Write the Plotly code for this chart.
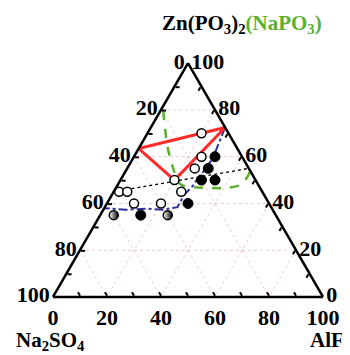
import plotly.graph_objects as go

# compositions (mol%): a = Zn(PO3)2, b = Na2SO4, c = AlF3
open_a = [70, 60, 55, 50, 45, 45, 45, 40, 40]
open_b = [10, 15, 20, 30, 30, 53, 50, 50, 40]
open_c = [20, 25, 25, 20, 25, 2, 5, 10, 20]

filled_a = [60, 55, 50, 50, 40, 35]
filled_b = [10, 15, 20, 15, 30, 50]
filled_c = [30, 30, 30, 35, 30, 15]

half_a = [35, 35]
half_b = [60, 40]
half_c = [5, 25]

red_a = [63.5, 72.5, 50, 63.5]
red_b = [36.5, 0, 30, 36.5]
red_c = [0, 27.5, 20, 0]

blue_a = [72.5, 59.4, 54.1, 50.7, 47.4, 43.7, 38.4, 37.3, 37.8, 37.3, 38]
blue_b = [0, 11.1, 16.9, 21.1, 24.6, 29.6, 34.7, 40.8, 46.7, 54.4, 62]
blue_c = [27.5, 29.5, 29, 28.2, 28, 26.7, 26.9, 21.9, 15.5, 8.3, 0]

green_a = [79.5, 72.8, 63.5, 55.4, 48.7, 47.4, 46.7, 46.7, 48.1, 52.1, 54.1]
green_b = [19.4, 22.2, 25.7, 27.9, 28.9, 27.7, 20.6, 12, 6.3, 1.6, 0]
green_c = [1.1, 5, 10.8, 16.7, 22.4, 24.9, 32.7, 41.3, 45.6, 46.3, 45.9]

dot_a = [45, 55]
dot_b = [55, 0]
dot_c = [0, 45]

grid_vals = [20, 40, 60, 80]
tick_vals = list(range(0, 101, 10))

FONT = "Liberation Serif"

fig = go.Figure()

# faint grid
for g in grid_vals:
    for aa, bb, cc in [([g, g], [100 - g, 0], [0, 100 - g]),
                       ([100 - g, 0], [g, g], [0, 100 - g]),
                       ([100 - g, 0], [0, 100 - g], [g, g])]:
        fig.add_trace(go.Scatterternary(a=aa, b=bb, c=cc, mode="lines",
                                        line=dict(color="rgba(225,140,140,0.45)", width=1, dash="dot"),
                                        hoverinfo="skip", showlegend=False))

fig.add_trace(go.Scatterternary(a=dot_a, b=dot_b, c=dot_c, mode="lines",
                                line=dict(color="black", width=1.3, dash="dot"), showlegend=False))
fig.add_trace(go.Scatterternary(a=green_a, b=green_b, c=green_c, mode="lines",
                                line=dict(color="#5cb030", width=2.5, dash="dash", shape="spline", smoothing=0.8),
                                showlegend=False))
fig.add_trace(go.Scatterternary(a=blue_a, b=blue_b, c=blue_c, mode="lines",
                                line=dict(color="#2e2e9e", width=2, dash="dashdot"), showlegend=False))
fig.add_trace(go.Scatterternary(a=red_a, b=red_b, c=red_c, mode="lines",
                                line=dict(color="#ff2a2a", width=3), showlegend=False))
fig.add_trace(go.Scatterternary(a=open_a, b=open_b, c=open_c, mode="markers",
                                marker=dict(symbol="circle", size=9, color="white",
                                            line=dict(color="black", width=1.5)), showlegend=False))
fig.add_trace(go.Scatterternary(a=filled_a, b=filled_b, c=filled_c, mode="markers",
                                marker=dict(symbol="circle", size=10, color="black",
                                            line=dict(color="black", width=1)), showlegend=False))
fig.add_trace(go.Scatterternary(a=half_a, b=half_b, c=half_c, mode="markers",
                                marker=dict(symbol="circle", size=9, color="white",
                                            gradient=dict(type="horizontal", color="black"),
                                            line=dict(color="black", width=1.5)), showlegend=False))

def axis(texts):
    return dict(
        title=dict(text=""),
        tickmode="array", tickvals=tick_vals, ticktext=texts,
        ticks="inside", ticklen=4, tickwidth=1.5, tickcolor="black",
        tickfont=dict(family=FONT, size=22, color="black", weight="bold"),
        showgrid=False, linecolor="black", linewidth=2.5, min=0,
    )

labels = [str(100 - v) if v % 20 == 0 else "" for v in tick_vals]
title_font = dict(family=FONT, size=21, color="black", weight="bold")

fig.update_layout(
    width=350, height=355,
    margin=dict(l=0, r=0, t=0, b=0),
    paper_bgcolor="white",
    ternary=dict(
        sum=100,
        bgcolor="white",
        domain=dict(x=[45 / 350, 315 / 350], y=[0.1634 + 8 / 355, 0.822 + 8 / 355]),
        aaxis=axis(labels),
        baxis=axis(labels),
        caxis=axis(labels),
    ),
    annotations=[
        dict(text="Zn(PO<sub>3</sub>)<sub>2</sub><span style='color:#5cb030'>(NaPO<sub>3</sub>)</span>",
             xref="paper", yref="paper", x=152 / 350, y=1 - 16 / 355, xanchor="left", yanchor="middle",
             showarrow=False, font=title_font),
        dict(text="Na<sub>2</sub>SO<sub>4</sub>",
             xref="paper", yref="paper", x=6 / 350, y=7 / 355, xanchor="left", yanchor="bottom",
             showarrow=False, font=title_font),
        dict(text="AlF<sub>3</sub>",
             xref="paper", yref="paper", x=345 / 350, y=7 / 355, xanchor="right", yanchor="bottom",
             showarrow=False, font=title_font),
    ],
)

fig.write_html("out.html")
